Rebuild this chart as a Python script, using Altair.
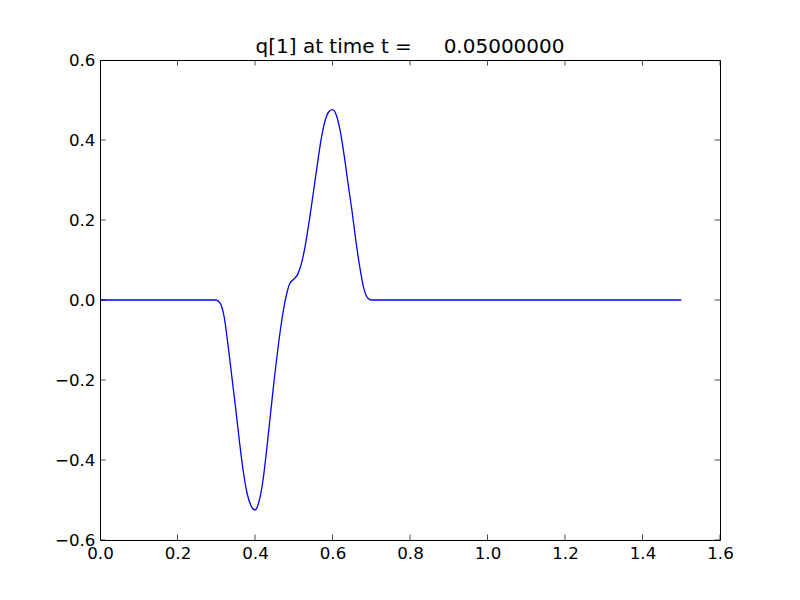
import altair as alt
import pandas as pd

x_vals = [0.0, 0.1, 0.2, 0.29, 0.30, 0.31, 0.32, 0.33, 0.34, 0.35, 0.36, 0.37,
          0.38, 0.39, 0.40, 0.41, 0.42, 0.43, 0.44, 0.45, 0.46, 0.47, 0.48,
          0.49, 0.50, 0.51, 0.52, 0.53, 0.54, 0.55, 0.56, 0.57, 0.58, 0.59,
          0.60, 0.61, 0.62, 0.63, 0.64, 0.65, 0.66, 0.67, 0.68, 0.69, 0.70,
          0.71, 0.8, 1.0, 1.2, 1.4, 1.5]
q_vals = [0.0, 0.0, 0.0, 0.0, 0.0, -0.008, -0.04, -0.11, -0.19, -0.27, -0.355, -0.43,
          -0.485, -0.515, -0.525, -0.505, -0.455, -0.375, -0.285, -0.195, -0.115, -0.045, 0.008,
          0.042, 0.052, 0.064, 0.092, 0.138, 0.198, 0.265, 0.333, 0.398, 0.445, 0.47,
          0.476, 0.462, 0.422, 0.362, 0.292, 0.225, 0.15, 0.085, 0.032, 0.006, 0.0,
          0.0, 0.0, 0.0, 0.0, 0.0, 0.0]

x_ticks = [0.0, 0.2, 0.4, 0.6, 0.8, 1.0, 1.2, 1.4, 1.6]
y_ticks = [-0.6, -0.4, -0.2, 0.0, 0.2, 0.4, 0.6]

title_text = "q[1] at time t =\u00a0\u00a0\u00a0\u00a0\u00a00.05000000"

line_df = pd.DataFrame({"x": x_vals, "q": q_vals})
xt_df = pd.DataFrame({"x": x_ticks})
yt_df = pd.DataFrame({"q": y_ticks})

xscale = alt.Scale(domain=[0.0, 1.6], nice=False, zero=False)
yscale = alt.Scale(domain=[-0.6, 0.6], nice=False, zero=False)
xaxis = alt.Axis(values=x_ticks, format=".1f", title=None)
yaxis = alt.Axis(values=y_ticks, format=".1f", title=None)

line = alt.Chart(line_df).mark_line(
    color="#0000ff", strokeWidth=1.3, interpolate="monotone"
).encode(
    x=alt.X("x:Q", scale=xscale, axis=xaxis),
    y=alt.Y("q:Q", scale=yscale, axis=yaxis),
)

tick_v = dict(orient="vertical", size=11, thickness=1, clip=True, color="black")
tick_h = dict(orient="horizontal", size=11, thickness=1, clip=True, color="black")

top_ticks = alt.Chart(xt_df).mark_tick(**tick_v).encode(
    x=alt.X("x:Q", scale=xscale, axis=xaxis),
    y=alt.YDatum(0.6, scale=yscale, axis=yaxis),
)
bottom_ticks = alt.Chart(xt_df).mark_tick(**tick_v).encode(
    x=alt.X("x:Q", scale=xscale, axis=xaxis),
    y=alt.YDatum(-0.6, scale=yscale, axis=yaxis),
)
left_ticks = alt.Chart(yt_df).mark_tick(**tick_h).encode(
    x=alt.XDatum(0.0, scale=xscale, axis=xaxis),
    y=alt.Y("q:Q", scale=yscale, axis=yaxis),
)
right_ticks = alt.Chart(yt_df).mark_tick(**tick_h).encode(
    x=alt.XDatum(1.6, scale=xscale, axis=xaxis),
    y=alt.Y("q:Q", scale=yscale, axis=yaxis),
)

chart = alt.layer(line, top_ticks, bottom_ticks, left_ticks, right_ticks).properties(
    width=620,
    height=480,
    title=alt.TitleParams(
        text=title_text, fontSize=20, fontWeight="normal", font="DejaVu Sans",
        color="black", frame="group", anchor="middle", baseline="alphabetic",
        offset=6, dy=27,
    ),
    autosize=alt.AutoSizeParams(type="none"),
    padding={"left": 92, "top": 52, "right": 72, "bottom": 52},
    background="white",
).configure_view(
    stroke="black", strokeWidth=1
).configure_axis(
    domain=False, ticks=False, grid=False, labelFont="DejaVu Sans",
    labelFontSize=16.7, labelColor="black", labelPadding=5,
    labelFlush=False, labelOverlap=False,
)

chart.save("out.html", embed_options={"renderer": "svg", "actions": False})
